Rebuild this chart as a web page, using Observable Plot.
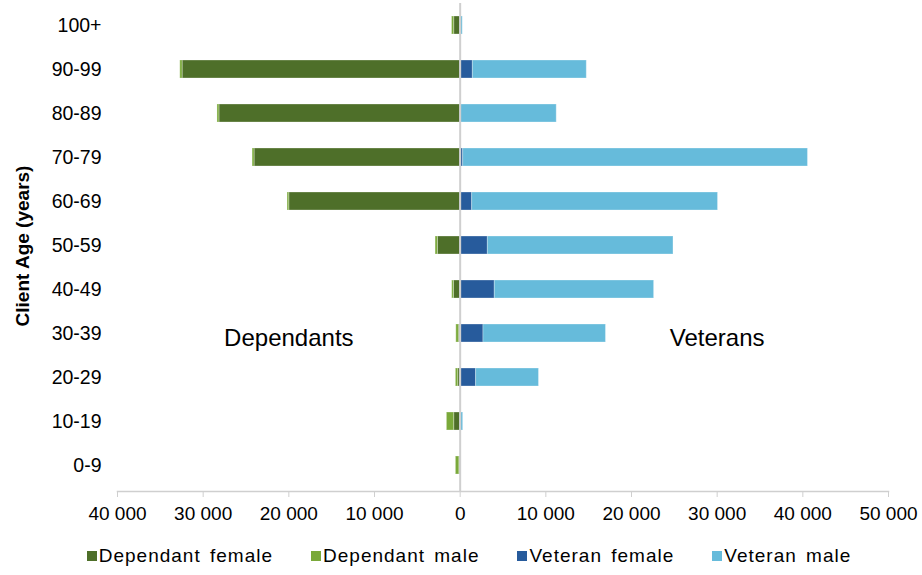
<!DOCTYPE html>
<html>
<head>
<meta charset="utf-8">
<script src="https://cdn.jsdelivr.net/npm/d3@7"></script>
<script src="https://cdn.jsdelivr.net/npm/@observablehq/plot@0.6"></script>
<style>
  body { margin: 0; background: #fff; font-family: "Liberation Sans", Arial, sans-serif; }
  #chart svg { display: block; }
  .legend { display: flex; justify-content: center; gap: 38px; font-size: 19px; letter-spacing: 1px; word-spacing: 3px; color: #000; margin-top: 15px; padding-left: 16px; line-height: 22px; }
  .legend span { display: inline-flex; align-items: center; }
  .legend i { display: inline-block; width: 10px; height: 10px; margin-right: 2px; }
</style>
</head>
<body>
<div id="chart"></div>
<script>
const ages = ["0-9","10-19","20-29","30-39","40-49","50-59","60-69","70-79","80-89","90-99","100+"];
const seriesNames = ["Dependant female","Dependant male","Veteran female","Veteran male"];
const seriesColors = ["#4e6f29","#7aa93a","#275b9c","#66bbdb"];
// dependants plotted to the left (negative side)
const dependantFemale = [100, 700, 230, 150, 730, 2600, 19950, 24000, 28100, 32400, 700];
const dependantMale   = [400, 850, 270, 300, 200, 270, 200, 230, 230, 270, 250];
const veteranFemale   = [0, 30, 1860, 2720, 4040, 3230, 1400, 350, 100, 1480, 30];
const veteranMale     = [0, 320, 7340, 14300, 18600, 21670, 28700, 40250, 11170, 13300, 270];
const xTicks = [-40000,-30000,-20000,-10000,0,10000,20000,30000,40000,50000];
const annotations = [
  {label: "Dependants", x: -20000, age: "30-39"},
  {label: "Veterans", x: 30000, age: "30-39"}
];

const rows = [];
ages.forEach((a, i) => {
  rows.push({age: a, series: seriesNames[0], value: -dependantFemale[i]});
  rows.push({age: a, series: seriesNames[1], value: -dependantMale[i]});
  rows.push({age: a, series: seriesNames[2], value: veteranFemale[i]});
  rows.push({age: a, series: seriesNames[3], value: veteranMale[i]});
});

const fmt = d => d3.format(",")(Math.abs(d)).replace(/,/g, " ");

const chart = Plot.plot({
  width: 922,
  height: 530,
  marginLeft: 117,
  marginRight: 34,
  marginTop: 0,
  marginBottom: 39,
  style: {fontFamily: "'Liberation Sans', Arial, sans-serif", fontSize: "19px", color: "#000", background: "#fff"},
  x: {domain: [-40000, 50000], ticks: xTicks, tickFormat: fmt},
  y: {domain: ages.slice().reverse(), paddingInner: 0.59, paddingOuter: 0.27},
  color: {domain: seriesNames, range: seriesColors},
  marks: [
    Plot.barX(rows, Plot.stackX({
      x: "value", y: "age", fill: "series", order: seriesNames,
      stroke: "white", strokeOpacity: 0.3, strokeWidth: 1
    })),
    Plot.ruleX([0], {stroke: "#cfcfcf", strokeWidth: 2, insetTop: 3}),
    Plot.frame({anchor: "bottom", stroke: "#cfcfcf", strokeWidth: 1.5}),
    Plot.axisX({ticks: xTicks, tickFormat: fmt, tickSize: 6, tickPadding: 9, stroke: "#cfcfcf", fill: "#000", label: null, style: {letterSpacing: "0.8px"}}),
    Plot.axisY({tickSize: 0, tickPadding: 16, label: null, fill: "#000", fontSize: 19.5, style: {letterSpacing: "1.8px"}}),
    Plot.text(["Client Age (years)"], {frameAnchor: "left", textAnchor: "middle", dx: -95, rotate: -90, fontWeight: "bold", fontSize: 19, fill: "#000", style: {letterSpacing: "1.6px"}}),
    Plot.text(annotations, {x: "x", y: "age", text: "label", fontSize: 24, fill: "#000", dy: 5, style: {letterSpacing: "1.9px"}})
  ]
});
document.getElementById("chart").appendChild(chart);

const legend = document.createElement("div");
legend.className = "legend";
seriesNames.forEach((n, i) => {
  const s = document.createElement("span");
  const sw = document.createElement("i");
  sw.style.background = seriesColors[i];
  s.appendChild(sw);
  s.appendChild(document.createTextNode(n));
  legend.appendChild(s);
});
document.body.appendChild(legend);
</script>
</body>
</html>
